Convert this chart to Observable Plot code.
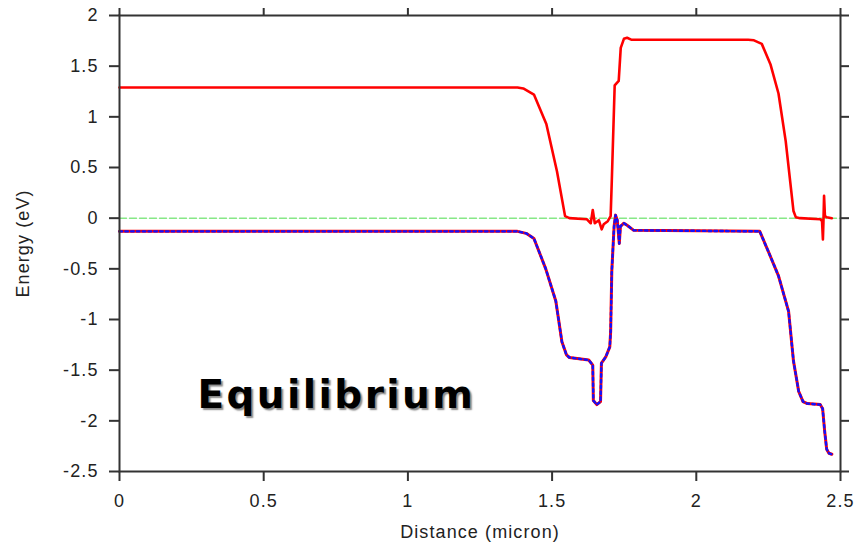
<!DOCTYPE html>
<html><head><meta charset="utf-8">
<script src="https://cdn.jsdelivr.net/npm/d3@7"></script>
<script src="https://cdn.jsdelivr.net/npm/@observablehq/plot@0.6"></script>
<style>
body{margin:0;background:#fff;}
#chart svg text{letter-spacing:1.1px;}
#chart svg g.eq text{letter-spacing:2.4px;text-shadow:2px 2px 1.5px #8a8a8a;}
</style>
</head><body><div id="chart"></div>
<script>
// Conduction band (red solid)
const cbX = [0, 1.38, 1.40, 1.437, 1.48, 1.517, 1.545, 1.56, 1.62, 1.634, 1.641, 1.648, 1.662, 1.672, 1.679, 1.693, 1.703, 1.707, 1.717, 1.731, 1.738, 1.749, 1.76, 1.776, 2.18, 2.20, 2.227, 2.257, 2.285, 2.31, 2.337, 2.345, 2.36, 2.43, 2.436, 2.439, 2.441, 2.443, 2.446, 2.452, 2.47];
const cbY = [1.29, 1.29, 1.28, 1.22, 0.93, 0.46, 0.02, 0.0, -0.01, -0.05, 0.08, -0.05, -0.02, -0.11, -0.06, -0.03, 0.02, 0.37, 1.31, 1.355, 1.68, 1.77, 1.78, 1.76, 1.76, 1.755, 1.72, 1.52, 1.23, 0.76, 0.07, 0.01, 0.0, -0.01, -0.03, -0.21, -0.02, 0.22, 0.02, 0.01, 0.0];
// Valence band (red solid with blue dotted overlay)
const vbX = [0, 1.38, 1.41, 1.437, 1.478, 1.513, 1.534, 1.55, 1.56, 1.627, 1.641, 1.643, 1.655, 1.668, 1.671, 1.686, 1.70, 1.703, 1.707, 1.715, 1.72, 1.726, 1.733, 1.737, 1.749, 1.76, 1.783, 2.22, 2.25, 2.285, 2.32, 2.337, 2.355, 2.37, 2.385, 2.43, 2.438, 2.445, 2.452, 2.46, 2.47];
const vbY = [-0.13, -0.13, -0.15, -0.2, -0.5, -0.82, -1.22, -1.35, -1.375, -1.40, -1.45, -1.80, -1.84, -1.81, -1.43, -1.37, -1.27, -1.12, -0.52, -0.08, 0.03, -0.02, -0.25, -0.08, -0.05, -0.07, -0.12, -0.13, -0.33, -0.57, -0.92, -1.41, -1.71, -1.81, -1.83, -1.84, -1.88, -2.1, -2.28, -2.32, -2.33];
// Fermi level (green dashed)
const efX = [0, 2.5];
const efY = [0, 0];
const xTicks = [0, 0.5, 1, 1.5, 2, 2.5];
const xTickLabels = ["0", "0.5", "1", "1.5", "2", "2.5"];
const yTicks = [-2.5, -2, -1.5, -1, -0.5, 0, 0.5, 1, 1.5, 2];
const yTickLabels = ["-2.5", "-2", "-1.5", "-1", "-0.5", "0", "0.5", "1", "1.5", "2"];
const annotation = ["Equilibrium"];

const cb = cbX.map((x, i) => ({x, y: cbY[i]}));
const vb = vbX.map((x, i) => ({x, y: vbY[i]}));
const ef = efX.map((x, i) => ({x, y: efY[i]}));

const axisColor = "#333";
const chart = Plot.plot({
  width: 858, height: 545,
  marginLeft: 119, marginRight: 18, marginTop: 15, marginBottom: 74,
  style: {fontFamily: "'Liberation Sans', Arial, sans-serif", fontSize: "18px", color: "#222", background: "#fff"},
  x: {domain: [0, 2.5]},
  y: {domain: [-2.5, 2]},
  marks: [
    Plot.line(ef, {x: "x", y: "y", stroke: "#86e886", strokeWidth: 1.5, strokeDasharray: "7,3"}),
    Plot.line(cb, {x: "x", y: "y", stroke: "#ff0000", strokeWidth: 2.6, strokeLinejoin: "round"}),
    Plot.line(vb, {x: "x", y: "y", stroke: "#ff0000", strokeWidth: 3, strokeLinejoin: "round"}),
    Plot.line(vb, {x: "x", y: "y", stroke: "#1010ff", strokeWidth: 2.4, strokeDasharray: "2.6,3.2", strokeLinejoin: "round"}),
    Plot.frame({stroke: axisColor, strokeWidth: 2}),
    Plot.axisX({ticks: xTicks, tickFormat: d => xTickLabels[xTicks.indexOf(d)], tickSize: 10, tickPadding: 13,
      stroke: axisColor, strokeWidth: 2, label: "Distance (micron)", labelAnchor: "center", labelArrow: "none", labelOffset: 66, fill: "#222"}),
    Plot.axisX({anchor: "top", ticks: xTicks, tickFormat: () => "", tickSize: 8, stroke: axisColor, strokeWidth: 2, label: null}),
    Plot.axisY({ticks: yTicks, tickFormat: d => yTickLabels[yTicks.indexOf(d)], tickSize: 10, tickPadding: 11,
      stroke: axisColor, strokeWidth: 2, label: "Energy (eV)", labelAnchor: "center", labelArrow: "none", labelOffset: 103, fill: "#222"}),
    Plot.axisY({anchor: "right", ticks: yTicks, tickFormat: () => "", tickSize: 8, stroke: axisColor, strokeWidth: 2, label: null}),
    Plot.text(annotation, {text: d => d, frameAnchor: "bottom-left", textAnchor: "start", lineAnchor: "middle",
      dx: 78, dy: -76, fontSize: 39, fontWeight: "bold", fontFamily: "'DejaVu Sans', sans-serif", fill: "#000", className: "eq"})
  ]
});
document.getElementById("chart").append(chart);
</script>
</body></html>
